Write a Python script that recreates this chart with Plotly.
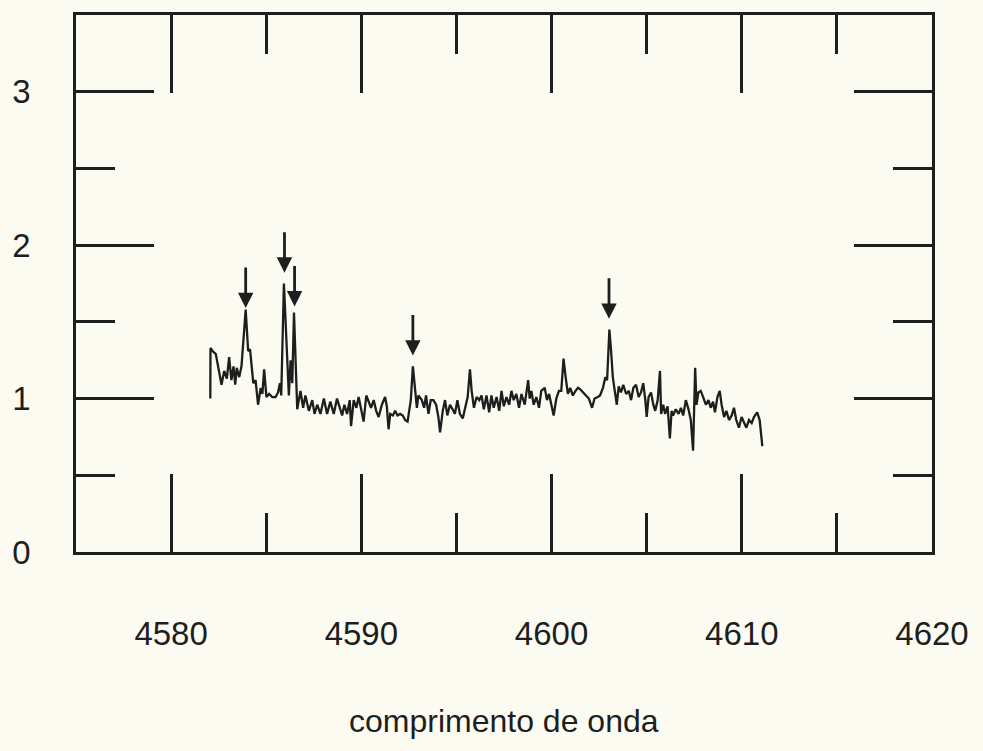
import plotly.graph_objects as go

# ---- data ----
wavelength = [
    4582.06, 4582.07, 4582.18, 4582.35, 4582.65, 4582.79, 4582.93, 4583.05, 4583.17, 4583.28,
    4583.37, 4583.45, 4583.58, 4583.70, 4583.92, 4584.05, 4584.15, 4584.32, 4584.44, 4584.57,
    4584.71, 4584.80, 4584.89, 4585.01, 4585.15, 4585.32, 4585.49, 4585.62, 4585.72, 4585.79,
    4585.93, 4586.07, 4586.19, 4586.28, 4586.37, 4586.46, 4586.58, 4586.63, 4586.80, 4586.94,
    4587.06, 4587.24, 4587.42, 4587.54, 4587.68, 4587.85, 4588.03, 4588.20, 4588.37, 4588.55,
    4588.72,
    4588.87, 4588.99, 4589.11, 4589.25, 4589.39, 4589.46, 4589.60, 4589.74, 4589.86, 4589.98,
    4590.12, 4590.26, 4590.39, 4590.51, 4590.65, 4590.78, 4590.91, 4591.08, 4591.25, 4591.34,
    4591.43, 4591.52, 4591.66, 4591.78, 4591.90, 4592.04, 4592.18, 4592.30, 4592.43, 4592.53,
    4592.60, 4592.71, 4592.83, 4592.92, 4593.00, 4593.09, 4593.18, 4593.30, 4593.40, 4593.53,
    4593.65, 4593.79, 4593.93, 4594.05, 4594.14, 4594.28, 4594.40, 4594.52, 4594.66, 4594.80,
    4594.92, 4595.05, 4595.18, 4595.33, 4595.45, 4595.59, 4595.71, 4595.80, 4595.92, 4596.06,
    4596.20,
    4596.32, 4596.44, 4596.58, 4596.72, 4596.84, 4596.96, 4597.11, 4597.25, 4597.37, 4597.49,
    4597.63, 4597.77, 4597.89, 4598.01, 4598.15, 4598.29, 4598.42, 4598.59, 4598.77, 4598.85,
    4598.94, 4599.06, 4599.20, 4599.34, 4599.46, 4599.64, 4599.76, 4599.87, 4599.99, 4600.11,
    4600.25, 4600.39, 4600.51, 4600.63, 4600.74, 4600.86, 4600.98, 4601.12, 4601.26, 4601.39,
    4601.51, 4601.65, 4601.82, 4601.96, 4602.13, 4602.26, 4602.43, 4602.55, 4602.70, 4602.83,
    4602.92, 4603.04, 4603.13, 4603.22, 4603.30, 4603.43,
    4603.53, 4603.65, 4603.77, 4603.92, 4604.06, 4604.18, 4604.30, 4604.44, 4604.58, 4604.70,
    4604.82, 4604.93, 4605.00, 4605.10, 4605.23, 4605.35, 4605.45, 4605.58, 4605.70, 4605.76,
    4605.87, 4605.97, 4606.10, 4606.22, 4606.31, 4606.39, 4606.53, 4606.68, 4606.80, 4606.92,
    4607.06, 4607.20, 4607.32, 4607.44, 4607.55, 4607.62, 4607.72, 4607.84, 4607.97, 4608.11,
    4608.25, 4608.37, 4608.49, 4608.59, 4608.72, 4608.84, 4608.94, 4609.07, 4609.19, 4609.33,
    4609.47, 4609.59, 4609.71, 4609.85, 4609.99, 4610.11, 4610.24, 4610.38, 4610.52, 4610.64,
    4610.81, 4610.94, 4611.08,
]

flux = [
    1.00, 1.33, 1.31, 1.29, 1.09, 1.18, 1.13, 1.27, 1.12, 1.21,
    1.09, 1.20, 1.14, 1.21, 1.58, 1.31, 1.32, 1.10, 1.12, 0.96,
    1.07, 1.03, 1.19, 1.01, 1.03, 1.01, 1.01, 1.04, 1.10, 1.02,
    1.75, 1.31, 1.02, 1.25, 1.10, 1.56, 1.01, 0.93, 1.05, 0.94,
    1.02, 0.92, 0.99, 0.90, 0.96, 0.90, 1.00, 0.90, 0.98, 0.90,
    1.00,
    0.93, 0.89, 0.96, 0.90, 0.99, 0.82, 0.99, 0.94, 1.01, 0.94,
    0.85, 1.02, 0.98, 0.94, 0.99, 0.92, 0.88, 0.96, 1.01, 0.95,
    0.80, 0.90, 0.89, 0.92, 0.89, 0.90, 0.89, 0.86, 0.85, 0.92,
    0.99, 1.21, 1.07, 0.94, 1.02, 1.00, 0.99, 0.94, 1.02, 0.90,
    0.99, 0.99, 0.96, 0.88, 0.78, 0.92, 0.99, 0.89, 0.96, 0.93,
    0.90, 0.99, 0.90, 0.87, 0.94, 1.01, 1.19, 1.05, 0.94, 1.01,
    0.99,
    1.02, 0.93, 1.02, 0.91, 1.02, 0.94, 1.01, 0.92, 1.05, 0.95,
    1.01, 0.96, 1.05, 0.99, 1.03, 0.94, 1.03, 0.96, 1.12, 1.00,
    1.05, 0.96, 1.01, 0.94, 1.05, 1.07, 0.99, 1.03, 0.95, 0.89,
    1.00, 1.05, 1.05, 1.26, 1.14, 1.03, 1.07, 1.02, 1.05, 1.07,
    1.06, 1.04, 1.02, 1.00, 0.94, 1.00, 1.01, 1.02, 1.07, 1.14,
    1.12, 1.45, 1.31, 1.14, 1.07, 0.96,
    1.08, 1.04, 1.09, 1.03, 1.05, 0.99, 1.07, 1.09, 1.01, 1.04,
    1.10, 0.99, 0.88, 1.01, 1.04, 0.96, 0.92, 0.99, 1.18, 0.90,
    0.96, 0.90, 0.95, 0.74, 0.92, 0.89, 0.93, 0.90, 0.94, 0.89,
    0.99, 0.93, 0.86, 0.66, 1.20, 0.96, 1.04, 1.05, 1.01, 0.96,
    0.99, 0.94, 0.98, 0.91, 1.01, 1.05, 0.96, 0.88, 0.92, 0.86,
    0.89, 0.94, 0.86, 0.81, 0.88, 0.85, 0.81, 0.86, 0.84, 0.88,
    0.91, 0.86, 0.69,
]

# marked lines (arrows): wavelength and flux level of the arrow tip
line_wavelengths = [4583.92, 4585.96, 4586.49, 4592.71, 4603.02]
arrow_tip_flux = [1.59, 1.82, 1.60, 1.28, 1.52]

x_tick_values = [4580, 4590, 4600, 4610, 4620]
y_tick_values = [0, 1, 2, 3]
x_title = "comprimento de onda"

# ---- styling ----
ink = "#1e1e1e"
paper = "#fcfbf2"
font_family = "Liberation Sans, Arial, Helvetica, sans-serif"

fig = go.Figure()
fig.add_trace(go.Scatter(
    x=wavelength, y=flux, mode="lines",
    line=dict(color=ink, width=2.3),
    hoverinfo="skip", showlegend=False,
))

for wl, tip in zip(line_wavelengths, arrow_tip_flux):
    fig.add_annotation(
        x=wl, y=tip, xref="x", yref="y", text="",
        showarrow=True, ax=0, ay=-42, arrowhead=2, arrowsize=1.1,
        arrowwidth=2.8, arrowcolor=ink, standoff=0,
    )

fig.add_annotation(
    text=x_title, xref="paper", yref="paper", x=0.5, y=-0.315,
    xanchor="center", yanchor="middle", showarrow=False,
    font=dict(family=font_family, size=32, color=ink),
)

axis_common = dict(
    ticks="inside", ticklen=78, tickwidth=2.6, tickcolor=ink,
    showline=True, linewidth=2.6, linecolor=ink, mirror="ticks",
    showgrid=False, zeroline=False,
    tickfont=dict(family=font_family, size=33, color=ink),
)

fig.update_xaxes(
    range=[4575, 4620], tickmode="array", tickvals=x_tick_values,
    ticktext=[str(v) for v in x_tick_values],
    ticklabelstandoff=51,
    minor=dict(ticks="inside", ticklen=39, tickwidth=2.6, tickcolor=ink,
               tick0=4575, dtick=5, showgrid=False),
    **axis_common,
)
fig.update_yaxes(
    range=[0, 3.5], tickmode="array", tickvals=y_tick_values,
    ticktext=[str(v) for v in y_tick_values],
    ticklabelstandoff=36,
    minor=dict(ticks="inside", ticklen=39, tickwidth=2.6, tickcolor=ink,
               tick0=0, dtick=0.5, showgrid=False),
    **axis_common,
)

fig.update_layout(
    width=983, height=751,
    margin=dict(l=73, r=51, t=12, b=199),
    paper_bgcolor=paper, plot_bgcolor=paper,
    showlegend=False,
)

fig.write_html("out.html")
